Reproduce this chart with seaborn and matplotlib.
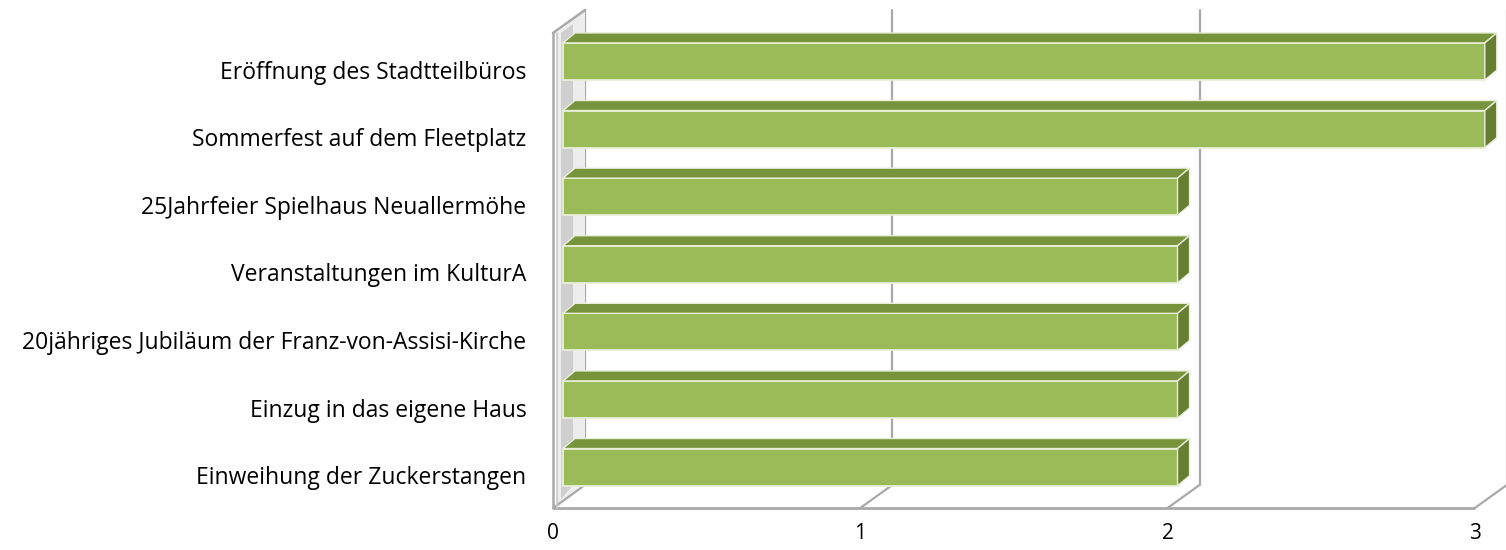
import numpy as np
import pandas as pd
import matplotlib
matplotlib.use("Agg")
import matplotlib.pyplot as plt
import matplotlib.transforms as mtransforms
from matplotlib.patches import Polygon
import seaborn as sns

# ---------------- data ----------------
categories = [
    "Eröffnung des Stadtteilbüros",
    "Sommerfest auf dem Fleetplatz",
    "25Jahrfeier Spielhaus Neuallermöhe",
    "Veranstaltungen im KulturA",
    "20jähriges Jubiläum der Franz-von-Assisi-Kirche",
    "Einzug in das eigene Haus",
    "Einweihung der Zuckerstangen",
]
values = [3, 3, 2, 2, 2, 2, 2]
x_ticks = [0, 1, 2, 3]
x_tick_labels = ["0", "1", "2", "3"]

# ---------------- style ----------------
sns.set_theme(style="white")
plt.rcParams['font.family'] = ['Open Sans', 'DejaVu Sans']

W, H = 1506, 550
fig = plt.figure(figsize=(W / 100, H / 100), dpi=100)
ax_left_px, ax_right_px, ax_top_px, ax_bot_px = 553, 1506, 10, 508
ax = fig.add_axes([ax_left_px / W, (H - ax_bot_px) / H,
                   (ax_right_px - ax_left_px) / W, (ax_bot_px - ax_top_px) / H])

df = pd.DataFrame({"cat": categories, "val": values})
sns.barplot(data=df, x="val", y="cat", orient="h", color="#9BBB59",
            saturation=1, width=0.55, edgecolor="#E8EFD9", linewidth=1.3,
            ax=ax, zorder=5)

xmin, xmax = -0.0325, 3.069
n = len(categories)
ymin, ymax = n - 0.395, -0.762
ax.set_xlim(xmin, xmax)
ax.set_ylim(ymin, ymax)

# data units per pixel
sx = (xmax - xmin) / (ax_right_px - ax_left_px)
sy = (ymin - ymax) / (ax_bot_px - ax_top_px)

# depth offsets (pixels)
bar_dx, bar_dy = 12, 10
wall_dx, wall_dy = 32, 23
floor_front_off = -10   # floor front edge relative to bar front (px)

grid_col = "#A9A9A9"

# floor (front edge + diagonal lines at ticks)
floor_y_front = ymin
floor_y_back = ymin - wall_dy * sy
x_front = [t + floor_front_off * sx for t in x_ticks]
x_back = [xf + wall_dx * sx for xf in x_front]
ax.plot([x_front[0], x_front[-1]], [floor_y_front, floor_y_front],
        color=grid_col, lw=2, zorder=2, clip_on=False, solid_capstyle="butt")
for xf, xb in zip(x_front, x_back):
    ax.plot([xf, xb], [floor_y_front, floor_y_back], color=grid_col, lw=1.6,
            zorder=2, clip_on=False)

# back wall vertical grid lines
for xb in x_back:
    ax.plot([xb, xb], [floor_y_back, ymax], color=grid_col, lw=1.6,
            zorder=1, clip_on=False)

# left side wall
wf = x_front[0]
wall_top_front = ymax + wall_dy * sy
wall_poly = Polygon([(wf + 4 * sx, wall_top_front), (x_back[0], ymax),
                     (x_back[0], floor_y_back), (wf + 4 * sx, floor_y_front)],
                    closed=True, facecolor="#EDEDED", edgecolor="none",
                    zorder=1, clip_on=False)
ax.add_patch(wall_poly)
wall_shade = Polygon([(wf + 8 * sx, wall_top_front), (wf + 20 * sx, wall_top_front - 9 * sy),
                      (wf + 20 * sx, floor_y_back), (wf + 8 * sx, floor_y_front - 9 * sy)],
                     closed=True, facecolor="#CFCFCF", edgecolor="none",
                     zorder=1, clip_on=False)
ax.add_patch(wall_shade)
ax.plot([wf, wf], [floor_y_front, wall_top_front], color=grid_col, lw=1.8,
        zorder=6, clip_on=False)
ax.plot([wf + 4 * sx, wf + 4 * sx], [floor_y_front, wall_top_front],
        color="#C8C8C8", lw=1.2, zorder=6, clip_on=False)
ax.plot([wf, x_back[0]], [wall_top_front, ymax], color=grid_col, lw=1.8,
        zorder=6, clip_on=False)

# 3D faces of bars
bars = [p for p in ax.patches if p not in (wall_poly, wall_shade)]
for p in bars:
    x0, w = p.get_x(), p.get_width()
    y0, h = p.get_y(), p.get_height()
    ytop, ybot = min(y0, y0 + h), max(y0, y0 + h)
    ddx, ddy = bar_dx * sx, bar_dy * sy
    top = Polygon([(x0, ytop), (x0 + w, ytop), (x0 + w + ddx, ytop - ddy),
                   (x0 + ddx, ytop - ddy)], closed=True,
                  facecolor="#77933C", edgecolor="#E8EFD9", lw=1.0, zorder=5,
                  clip_on=False)
    side = Polygon([(x0 + w, ytop), (x0 + w, ybot), (x0 + w + ddx, ybot - ddy),
                    (x0 + w + ddx, ytop - ddy)], closed=True,
                   facecolor="#667D32", edgecolor="#E8EFD9", lw=1.0, zorder=5,
                   clip_on=False)
    ax.add_patch(top)
    ax.add_patch(side)

# axes styling
for s in ax.spines.values():
    s.set_visible(False)
ax.set_xlabel("")
ax.set_ylabel("")
ax.set_xticks(x_front)
ax.set_xticklabels(x_tick_labels, fontsize=15, color="black")
ax.tick_params(axis="x", length=0, pad=11)
ax.tick_params(axis="y", length=0, pad=19, labelsize=16.5, labelcolor="black")
off = mtransforms.ScaledTranslation(0, -8 / 100, fig.dpi_scale_trans)
for lab in ax.get_yticklabels():
    lab.set_transform(lab.get_transform() + off)
ax.grid(False)
ax.set_facecolor("none")
fig.patch.set_facecolor("white")

fig.savefig("out.png", dpi=100)
